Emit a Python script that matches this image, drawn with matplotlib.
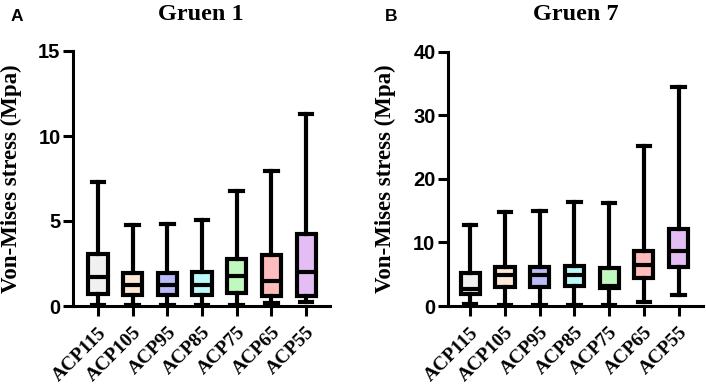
import matplotlib
matplotlib.use("Agg")
import matplotlib.pyplot as plt

categories = ["ACP115", "ACP105", "ACP95", "ACP85", "ACP75", "ACP65", "ACP55"]
colors = ["#f0f0f0", "#fde8d8", "#babaf8", "#bdf8f8", "#c0f8c0", "#ffbcbc", "#e4bdf5"]

# Gruen 1
g1_min = [0.05, 0.05, 0.05, 0.05, 0.05, 0.2, 0.24]
g1_q1 = [0.69, 0.63, 0.63, 0.63, 0.75, 0.59, 0.61]
g1_med = [1.73, 1.24, 1.24, 1.24, 1.76, 1.47, 2.02]
g1_q3 = [3.04, 1.96, 1.96, 2.02, 2.75, 3.0, 4.24]
g1_max = [7.28, 4.75, 4.8, 5.08, 6.76, 7.96, 11.27]

# Gruen 7
g7_min = [0.27, 0.2, 0.2, 0.2, 0.2, 0.63, 1.68]
g7_q1 = [1.89, 3.04, 3.04, 3.2, 2.78, 4.46, 6.18]
g7_med = [2.6, 4.82, 4.82, 4.82, 3.2, 6.45, 8.7]
g7_q3 = [5.14, 6.08, 6.08, 6.29, 5.92, 8.7, 12.06]
g7_max = [12.74, 14.73, 14.99, 16.3, 16.2, 25.2, 34.5]

fig = plt.figure(figsize=(7.06, 3.91), dpi=100)

serif = "Liberation Serif"
sans = "Liberation Sans"


def panel(rect, mins, q1, med, q3, maxs, ylim, yticks, xlim, title, letter, lpos, tpos, ylab_x):
    ax = fig.add_axes(rect)
    stats = []
    for i, c in enumerate(categories):
        stats.append(dict(label=c, whislo=mins[i], q1=q1[i], med=med[i], q3=q3[i], whishi=maxs[i], fliers=[]))
    lw = 3.0
    bp = ax.bxp(stats, positions=range(len(categories)), widths=0.55, capwidths=0.36,
                patch_artist=True, showfliers=False,
                boxprops=dict(linewidth=lw, edgecolor="black"),
                medianprops=dict(linewidth=lw, color="black"),
                whiskerprops=dict(linewidth=lw, color="black"),
                capprops=dict(linewidth=lw, color="black"))
    for patch, col in zip(bp["boxes"], colors):
        patch.set_facecolor(col)
    for art in bp["caps"] + bp["whiskers"]:
        art.set_clip_on(False)
    ax.set_ylim(*ylim)
    ax.set_xlim(*xlim)
    ax.set_yticks(yticks)
    ax.set_xticks(range(len(categories)))
    ax.set_xticklabels(categories, rotation=45, ha="right", rotation_mode="anchor",
                       fontfamily=serif, fontweight="bold", fontsize=14)
    for lab in ax.get_yticklabels():
        lab.set_fontfamily(sans)
        lab.set_fontweight("bold")
        lab.set_fontsize(14.5)
    for s in ["top", "right"]:
        ax.spines[s].set_visible(False)
    for s in ["left", "bottom"]:
        ax.spines[s].set_linewidth(2.2)
    ax.tick_params(axis="both", width=2.2, length=7, direction="out")
    ax.tick_params(axis="y", pad=2)
    ax.tick_params(axis="x", pad=6)
    ax.set_ylabel("Von-Mises stress (Mpa)", fontfamily=serif, fontweight="bold", fontsize=16.5)
    ax.yaxis.set_label_coords(ylab_x, 0.5)
    fig.text(tpos[0], tpos[1], title, fontfamily=serif, fontweight="bold", fontsize=17.5,
             ha="center", va="baseline")
    fig.text(lpos[0], lpos[1], letter, fontfamily=sans, fontweight="bold", fontsize=12.5,
             ha="left", va="baseline")
    return ax


panel([73 / 706, 1 - 306 / 391, 257 / 706, 255 / 391], g1_min, g1_q1, g1_med, g1_q3, g1_max,
      (0, 15), [0, 5, 10, 15], (-0.72, 6.69), "Gruen 1", "A",
      (11 / 706, 1 - 21 / 391), (201 / 706, 1 - 20 / 391), -0.198)
panel([448 / 706, 1 - 306 / 391, 255 / 706, 254.3 / 391], g7_min, g7_q1, g7_med, g7_q3, g7_max,
      (0, 40), [0, 10, 20, 30, 40], (-0.64, 6.70), "Gruen 7", "B",
      (385 / 706, 1 - 21 / 391), (576 / 706, 1 - 20 / 391), -0.204)

fig.savefig("out.png", dpi=100)
